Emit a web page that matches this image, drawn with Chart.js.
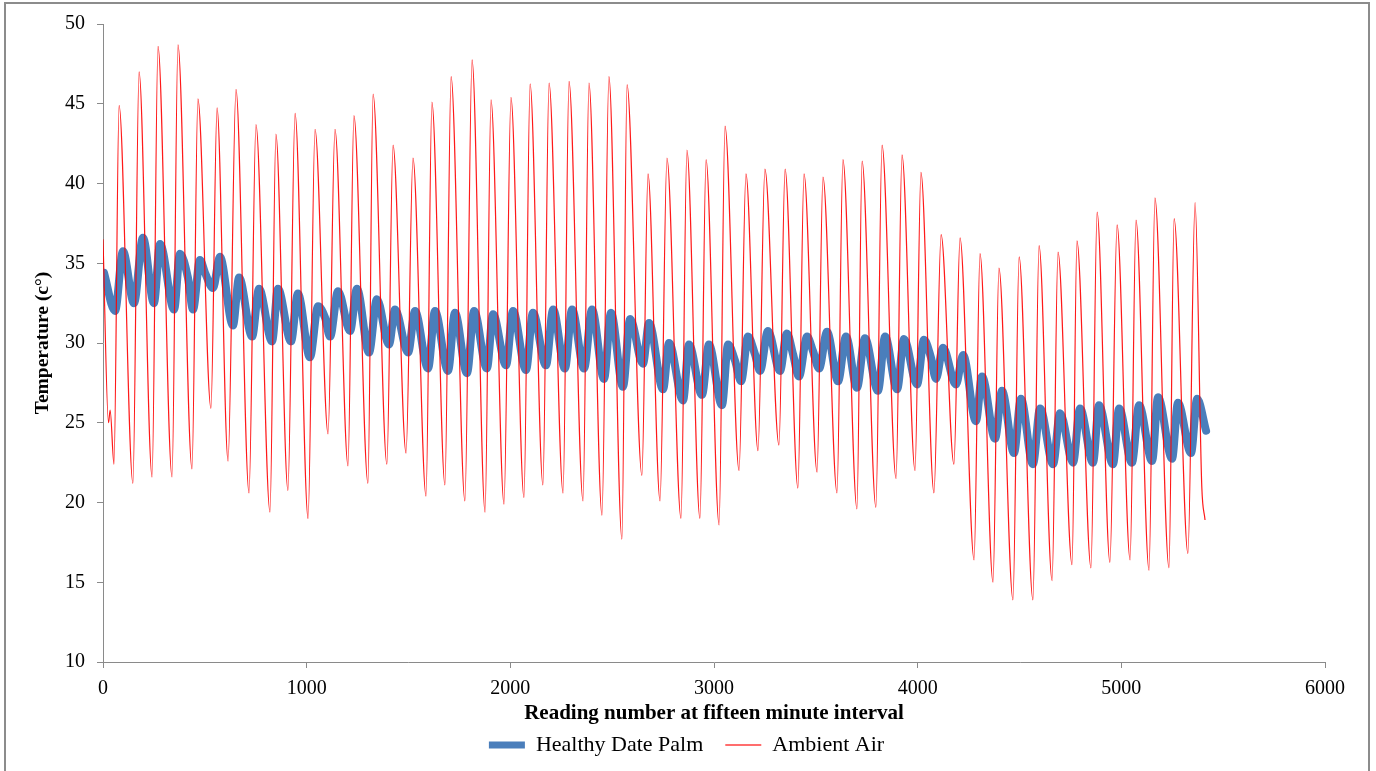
<!DOCTYPE html>
<html>
<head>
<meta charset="utf-8">
<script src="https://cdn.jsdelivr.net/npm/chart.js@4/dist/chart.umd.min.js"></script>
<style>
  html, body { margin: 0; padding: 0; background: #fff; overflow: hidden; }
  #wrap { position: relative; width: 1376px; height: 771px; }
  #frame { position: absolute; left: 4px; top: 2px; width: 1362px; height: 800px;
           border: 2px solid #8c8c8c; pointer-events: none; }
</style>
</head>
<body>
<div id="wrap">
  <canvas id="chart" width="1376" height="771"></canvas>
  <div id="frame"></div>
</div>
<script>
/* Healthy date palm vs ambient air temperature, readings every 15 minutes */

// tick labels
const xTickValues = [0, 1000, 2000, 3000, 4000, 5000, 6000];
const yTickValues = [10, 15, 20, 25, 30, 35, 40, 45, 50];

// Healthy Date Palm: daily highs / lows (reading number, °C)
const palmX = [5, 59, 98, 152, 196, 250, 280, 349, 378, 417,
  442, 476, 501, 540, 574, 638, 668, 732, 766, 830,
  859, 923, 957, 1016, 1056, 1090, 1115, 1154, 1213, 1247,
  1306, 1345, 1404, 1434, 1498, 1532, 1596, 1630, 1694, 1728,
  1787, 1822, 1885, 1915, 1979, 2013, 2077, 2111, 2175, 2210,
  2268, 2303, 2362, 2401, 2460, 2494, 2553, 2588, 2651, 2681,
  2750, 2779, 2848, 2877, 2941, 2975, 3039, 3069, 3103, 3133,
  3167, 3201, 3226, 3265, 3324, 3358, 3388, 3417, 3457, 3486,
  3516, 3555, 3609, 3648, 3702, 3741, 3805, 3840, 3899, 3933,
  3997, 4031, 4065, 4090, 4124, 4188, 4223, 4286, 4316, 4380,
  4414, 4473, 4507, 4566, 4601, 4665, 4699, 4763, 4797, 4861,
  4890, 4959, 4989, 5052, 5087, 5151, 5180, 5249, 5278, 5342,
  5372, 5416];
const palmTemp = [34.4, 32.0, 35.75, 32.5, 36.6, 32.5, 36.2, 32.1, 35.6, 34.1,
  32.1, 35.2, 34.4, 33.45, 35.4, 31.1, 34.1, 30.4, 33.4, 30.1,
  33.4, 30.1, 33.1, 29.1, 32.3, 31.6, 30.4, 33.25, 30.75, 33.4,
  29.4, 32.75, 29.9, 32.1, 29.4, 32.0, 28.4, 32.0, 28.25, 31.9,
  28.1, 32.0, 28.4, 31.8, 28.6, 32.0, 28.3, 31.9, 28.6, 32.1,
  28.4, 32.1, 28.4, 32.1, 27.75, 31.9, 27.25, 31.5, 28.7, 31.25,
  27.1, 30.0, 26.4, 29.9, 26.75, 29.9, 26.1, 29.9, 28.9, 27.6,
  30.4, 29.3, 28.25, 30.75, 28.25, 30.6, 29.3, 27.9, 30.4, 29.5,
  28.4, 30.7, 27.6, 30.4, 27.2, 30.3, 27.0, 30.4, 27.1, 30.25,
  27.4, 30.2, 29.1, 27.75, 29.7, 27.4, 29.25, 25.1, 27.9, 24.0,
  27.0, 23.1, 26.5, 22.4, 25.9, 22.4, 25.6, 22.5, 25.9, 22.5,
  26.1, 22.4, 25.9, 22.5, 26.1, 22.6, 26.6, 22.75, 26.25, 23.1,
  26.5, 24.5];

// Ambient Air: daily highs / lows
const airX = [0, 27, 35, 54, 79, 147, 177, 241, 270, 339,
  368, 437, 466, 530, 560, 614, 653, 717, 751, 820,
  849, 908, 943, 1007, 1041, 1105, 1139, 1203, 1232, 1301,
  1326, 1394, 1424, 1488, 1522, 1586, 1615, 1679, 1709, 1777,
  1812, 1876, 1905, 1969, 2003, 2067, 2097, 2160, 2190, 2259,
  2288, 2357, 2386, 2450, 2484, 2548, 2573, 2646, 2676, 2735,
  2769, 2838, 2867, 2931, 2961, 3025, 3054, 3123, 3157, 3216,
  3250, 3319, 3349, 3412, 3442, 3506, 3535, 3604, 3633, 3702,
  3727, 3795, 3825, 3894, 3923, 3987, 4016, 4080, 4115, 4178,
  4208, 4277, 4306, 4370, 4399, 4468, 4498, 4566, 4596, 4660,
  4689, 4758, 4782, 4851, 4881, 4944, 4979, 5043, 5072, 5136,
  5165, 5234, 5259, 5327, 5362, 5395, 5411];
const airTemp = [36.5, 25.0, 25.8, 22.4, 44.9, 21.2, 47.0, 21.6, 48.6, 21.6,
  48.7, 22.1, 45.3, 25.9, 44.75, 22.6, 45.9, 20.6, 43.7, 19.4,
  43.1, 20.75, 44.4, 19.0, 43.4, 24.3, 43.4, 22.3, 44.25, 21.2,
  45.6, 22.4, 42.4, 23.1, 41.6, 20.4, 45.1, 21.1, 46.7, 20.1,
  47.75, 19.4, 45.25, 19.9, 45.4, 20.3, 46.25, 21.1, 46.3, 20.6,
  46.4, 20.1, 46.3, 19.2, 46.7, 17.7, 46.2, 21.7, 40.6, 20.1,
  41.6, 19.0, 42.1, 19.0, 41.5, 18.6, 43.6, 22.0, 40.6, 23.25,
  40.9, 23.6, 40.9, 20.9, 40.6, 21.9, 40.4, 20.6, 41.5, 19.6,
  41.4, 19.7, 42.4, 21.5, 41.8, 22.0, 40.7, 20.6, 36.8, 22.4,
  36.6, 16.4, 35.6, 15.0, 34.7, 13.9, 35.4, 13.9, 36.1, 15.1,
  35.7, 16.1, 36.4, 15.9, 38.2, 16.25, 37.4, 16.4, 37.7, 15.75,
  39.1, 15.9, 37.8, 16.8, 38.8, 21.0, 18.9];

const toPoints = (xs, ys) => xs.map((x, i) => ({ x, y: ys[i] }));

const serif = "'Liberation Serif', 'Times New Roman', serif";
const axisGrey = "#8a8a8a";

// legend samples: thick blue bar, light red hairline a bit heavier than the series
function legendLabels(chart) {
  const items = Chart.defaults.plugins.legend.labels.generateLabels(chart);
  items.forEach((it) => {
    if (it.datasetIndex === 1) {
      it.strokeStyle = "rgba(255,60,60,0.75)";
      it.lineWidth = 2;
    } else {
      it.lineWidth = 7;
    }
  });
  return items.sort((a, b) => a.datasetIndex - b.datasetIndex);
}

// the legend is centred on the whole figure, not on the plot box
const legendShift = {
  id: "legendShift",
  afterLayout(chart) {
    if (chart.legend) {
      chart.legend.left += 24;
      chart.legend.right += 24;
    }
  },
};

new Chart(document.getElementById("chart"), {
  type: "line",
  data: {
    datasets: [
      {
        label: "Healthy Date Palm",
        data: toPoints(palmX, palmTemp),
        borderColor: "#4a7ebb",
        borderWidth: 8,
        borderCapStyle: "round",
        borderJoinStyle: "round",
        cubicInterpolationMode: "monotone",
        pointRadius: 0,
        order: 2,
      },
      {
        label: "Ambient Air",
        data: toPoints(airX, airTemp),
        borderColor: "rgba(255,0,0,0.9)",
        borderWidth: 1.2,
        cubicInterpolationMode: "monotone",
        pointRadius: 0,
        order: 1,
      },
    ],
  },
  plugins: [legendShift],
  options: {
    responsive: false,
    animation: false,
    layout: { padding: { top: 22, right: 51, bottom: 5, left: 0 } },
    plugins: {
      tooltip: { enabled: false },
      legend: {
        position: "bottom",
        labels: {
          usePointStyle: true,
          pointStyle: "line",
          pointStyleWidth: 36,
          color: "#000",
          font: { family: serif, size: 22 },
          padding: 22,
          generateLabels: legendLabels,
        },
      },
    },
    scales: {
      x: {
        type: "linear",
        min: 0,
        max: 6000,
        afterBuildTicks: (s) => { s.ticks = xTickValues.map((v) => ({ value: v })); },
        afterFit: (s) => { s.height = 50; },
        ticks: {
          color: "#000",
          font: { family: serif, size: 20 },
          padding: 9,
          maxRotation: 0,
          callback: (v) => String(v),
        },
        grid: { drawOnChartArea: false, drawTicks: true, tickLength: 6, color: axisGrey },
        border: { color: axisGrey, width: 1 },
        title: {
          display: true,
          text: "Reading number at fifteen minute interval",
          color: "#000",
          font: { family: serif, size: 21, weight: "bold" },
          padding: { top: 0, bottom: -14 },
        },
      },
      y: {
        min: 10,
        max: 50,
        afterBuildTicks: (s) => { s.ticks = yTickValues.map((v) => ({ value: v })); },
        afterFit: (s) => { s.width = 103; },
        ticks: { color: "#000", font: { family: serif, size: 20 }, padding: 12 },
        grid: { drawOnChartArea: false, drawTicks: true, tickLength: 6, color: axisGrey },
        border: { color: axisGrey, width: 1 },
        title: {
          display: true,
          text: "Temperature (c°)",
          color: "#000",
          font: { family: serif, size: 19.5, weight: "bold" },
          padding: { top: 31, bottom: 0 },
        },
      },
    },
  },
});
</script>
</body>
</html>
